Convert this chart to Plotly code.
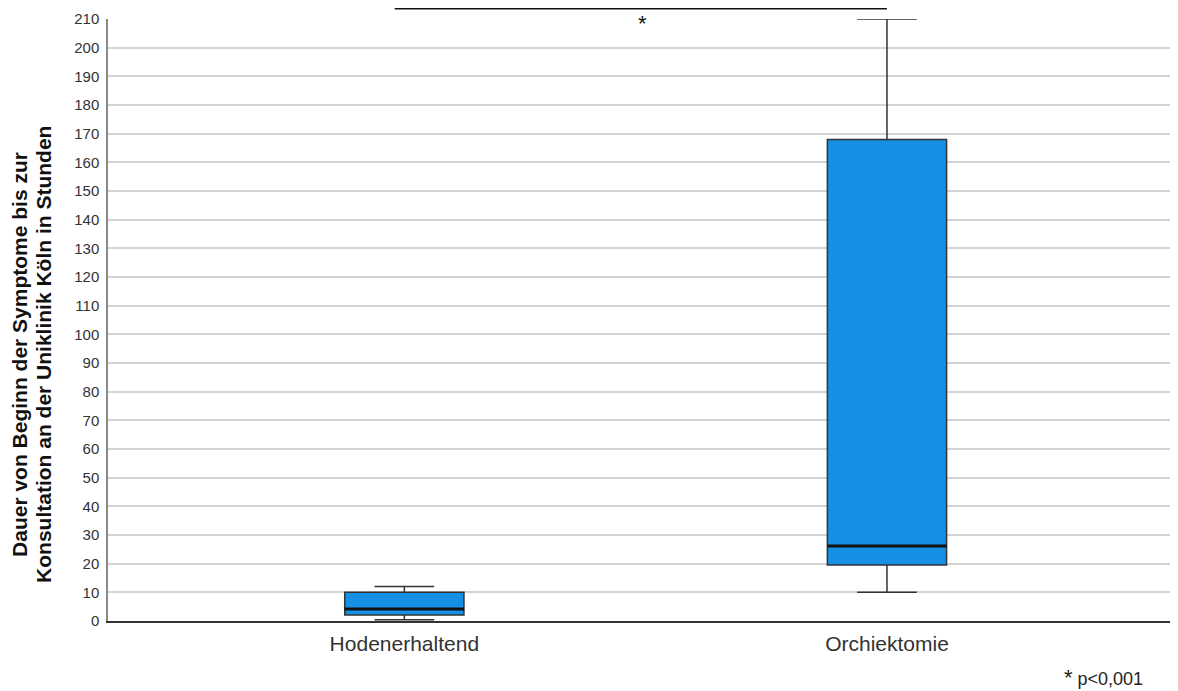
import plotly.graph_objects as go

categories = ["Hodenerhaltend", "Orchiektomie"]
q1 = [2.1, 19.5]
median = [4.2, 26.2]
q3 = [10.0, 168.0]
lower = [0.4, 10.0]
upper = [12.0, 210.0]
y_ticks = list(range(0, 211, 10))
title_lines = ["Dauer von Beginn der Symptome bis zur",
               "Konsultation an der Uniklinik Köln in Stunden"]

box_w = 0.247
fill = "#1590E4"
xpos = list(range(len(categories)))

fig = go.Figure()
for i, c in enumerate(categories):
    fig.add_trace(go.Box(
        x=[xpos[i]], q1=[q1[i]], median=[median[i]], q3=[q3[i]],
        lowerfence=[lower[i]], upperfence=[upper[i]],
        width=box_w, whiskerwidth=0.5, fillcolor=fill,
        line=dict(color="#333333", width=1.5), name=c, showlegend=False,
        hoverinfo="skip",
    ))
    fig.add_trace(go.Scatter(
        x=[xpos[i] - box_w / 2, xpos[i] + box_w / 2], y=[median[i], median[i]],
        mode="lines", line=dict(color="#111111", width=3), showlegend=False,
        hoverinfo="skip",
    ))

fig.add_shape(type="line", xref="x", yref="paper", x0=-0.02, x1=1.0, y0=1.017, y1=1.017,
              line=dict(color="#111111", width=1.5))
fig.add_annotation(x=0.494, y=208.6, xref="x", yref="y", text="*", showarrow=False,
                   font=dict(size=22, color="#111111", family="Liberation Sans"),
                   yanchor="middle")
fig.add_annotation(x=0.8916, y=-0.094, xref="paper", yref="paper",
                   text="<span style='font-size:22px'>*</span> p<0,001", showarrow=False,
                   font=dict(size=18, color="#222222", family="Liberation Sans"),
                   xanchor="left", yanchor="middle")
for xp, line in zip([-0.0822, -0.0598], title_lines):
    fig.add_annotation(x=xp, y=0.442, xref="paper", yref="paper", text="<b>" + line + "</b>",
                       textangle=-90, showarrow=False, xanchor="center", yanchor="middle",
                       font=dict(size=21, color="#111111", family="Liberation Sans"))

fig.update_layout(
    width=1170, height=683,
    margin=dict(l=100, r=0, t=11, b=70),
    paper_bgcolor="white", plot_bgcolor="white",
    font=dict(family="Liberation Sans", color="#333333"),
    xaxis=dict(
        range=[-0.614, 1.603], tickvals=xpos, ticktext=categories,
        tickfont=dict(size=21, color="#333333"), showgrid=False, zeroline=False,
        showline=True, linecolor="#333333", linewidth=1.5, ticks="", ticklen=0,
        ticklabelstandoff=3,
    ),
    yaxis=dict(
        range=[0, 210], tickvals=y_ticks, tickfont=dict(size=15, color="#333333"),
        showgrid=True, gridcolor="#d4d4d4", gridwidth=2, zeroline=False,
        showline=True, linecolor="#8a8a8a", linewidth=1.5, ticks="",
        ticklabelstandoff=4,
    ),
)

fig.write_html("out.html")
